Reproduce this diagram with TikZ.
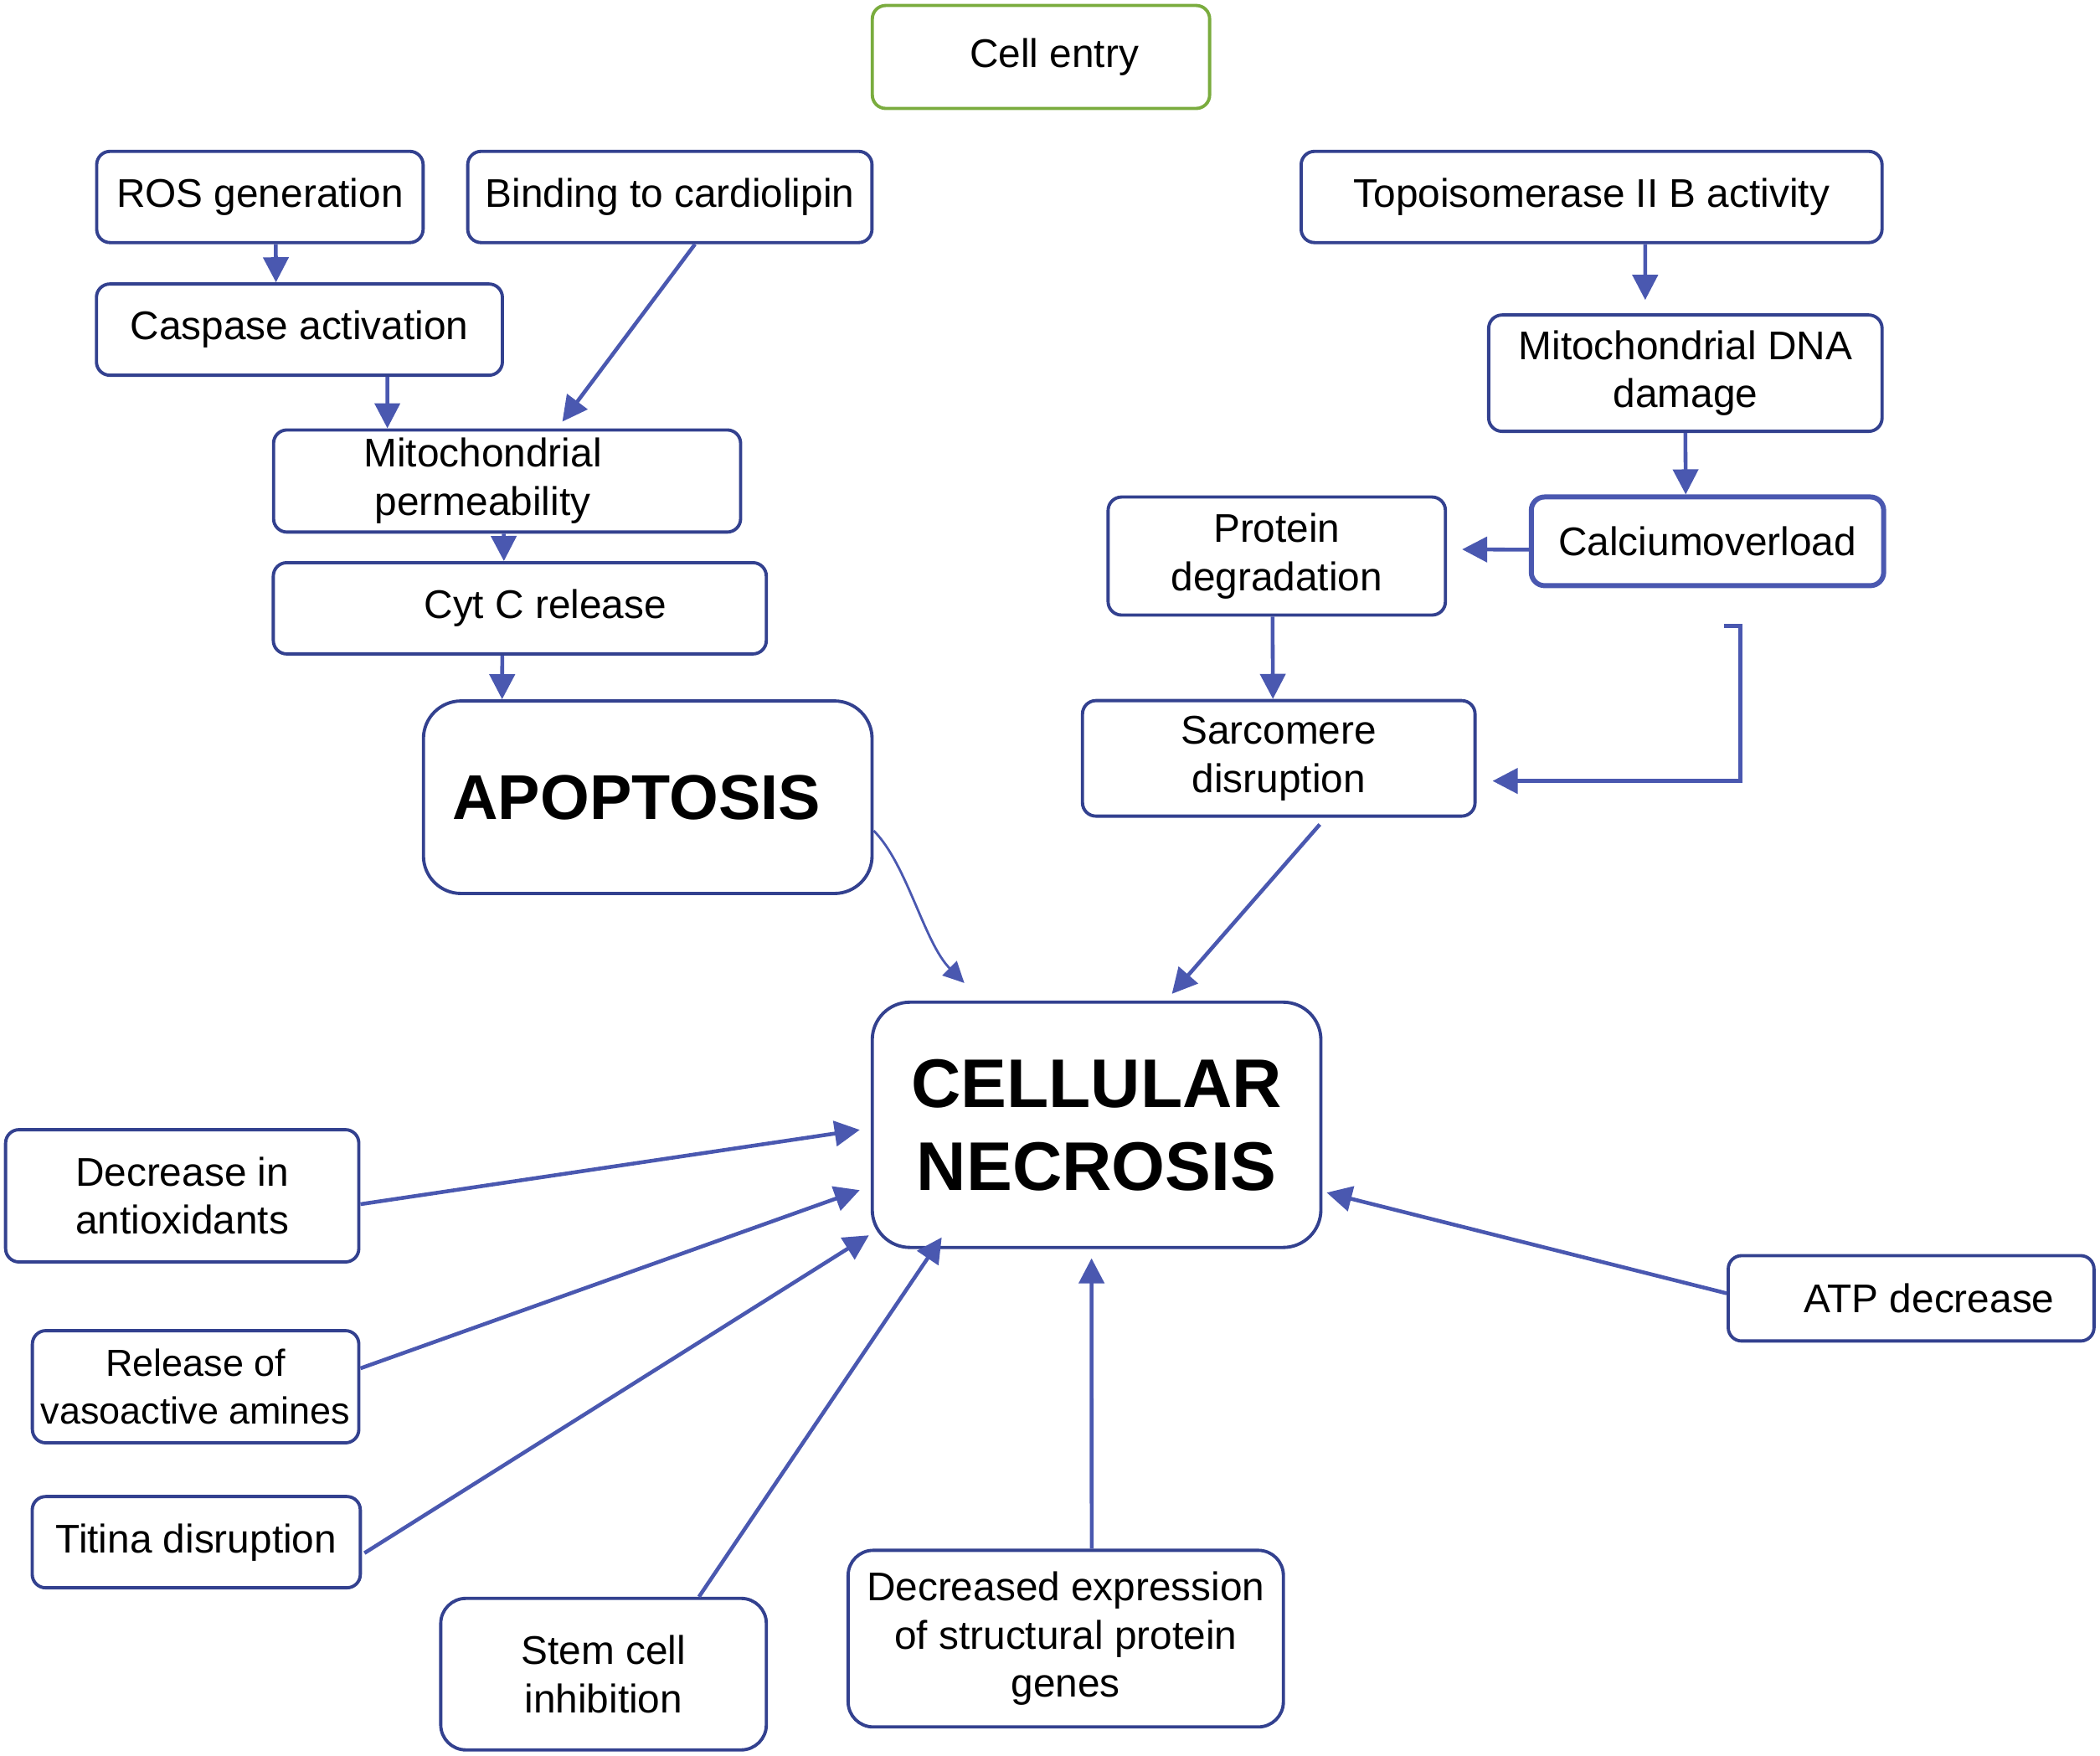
\documentclass[tikz,border=0pt]{standalone}
\usepackage{fontspec}
\setmainfont{Liberation Sans}
\usepackage{xcolor}
\definecolor{colorBox}{RGB}{51,65,143}
\definecolor{colorArrow}{RGB}{74,88,176}
\definecolor{colorEntry}{RGB}{122,172,62}
\usetikzlibrary{arrows.meta, positioning}
\tikzset{
  process/.style={draw=colorBox, line width=1.1pt, rounded corners=0.16cm, align=center, inner sep=2pt, font=\fontsize{13.6}{16.4}\selectfont},
  outcome/.style={process, rounded corners=0.45cm, font=\fontsize{23.4}{28.2}\selectfont\bfseries},
  link/.style={->, colorArrow, line width=1.3pt},
}

\begin{document}
\begin{tikzpicture}[x=0.016cm, y=-0.016cm, >={Triangle[length=0.3cm, width=0.3cm]}]
\useasboundingbox (0,0) rectangle (1567.5,1310.6);
% apoptosis branch
\node[process, draw=colorEntry, minimum width=4.03cm, minimum height=1.23cm] (entry) at (777,42.5) {\hspace*{0.32cm}Cell entry};
\node[process, minimum width=3.90cm, minimum height=1.09cm] (ros) at (194,147) {ROS generation};
\node[process, minimum width=4.83cm, minimum height=1.09cm] (binding) at (500,147) {Binding to cardiolipin};
\node[process, minimum width=4.85cm, minimum height=1.09cm] (caspase) at (223.5,246) {Caspase activation};
\node[process, minimum width=5.58cm, minimum height=1.22cm] (mitoPerm) at (378.5,359) {Mitochondrial\hspace*{0.58cm}\\permeability\hspace*{0.58cm}};
\node[process, minimum width=5.89cm, minimum height=1.09cm] (cytC) at (388,454) {\hspace*{0.61cm}Cyt C release};
\node[outcome, minimum width=5.36cm, minimum height=2.30cm, font=\fontsize{21.5}{26}\selectfont\bfseries] (apoptosis) at (483.5,595) {APOPTOSIS\hspace*{0.27cm}};
% topoisomerase branch
\node[process, minimum width=6.94cm, minimum height=1.09cm] (topo) at (1188,147) {Topoisomerase II B activity};
\node[process, minimum width=4.70cm, minimum height=1.39cm] (mitoDna) at (1258,278.5) {Mitochondrial DNA\\damage};
\node[process, draw=colorArrow, line width=1.7pt, minimum width=4.21cm, minimum height=1.06cm] (calcium) at (1274.5,404) {Calciumoverload};
\node[process, minimum width=4.03cm, minimum height=1.41cm] (protein) at (953,415) {Protein\\degradation};
\node[process, minimum width=4.69cm, minimum height=1.38cm] (sarcomere) at (954.5,566) {Sarcomere\\disruption};
% necrosis and its causes
\node[outcome, minimum width=5.36cm, minimum height=2.93cm] (necrosis) at (818.5,839.5) {CELLULAR\\NECROSIS};
\node[process, minimum width=4.22cm, minimum height=1.58cm] (antiox) at (136,892.5) {Decrease in\\antioxidants};
\node[process, minimum width=3.90cm, minimum height=1.34cm, font=\fontsize{12.8}{16.4}\selectfont] (vaso) at (146,1035) {Release of\\vasoactive amines};
\node[process, minimum width=3.92cm, minimum height=1.09cm] (titina) at (146.5,1151) {Titina disruption};
\node[process, rounded corners=0.3cm, minimum width=3.89cm, minimum height=1.81cm] (stem) at (450.5,1249.5) {Stem cell\\inhibition};
\node[process, rounded corners=0.3cm, minimum width=5.20cm, minimum height=2.11cm] (genes) at (795.5,1223) {Decreased expression\\of structural protein\\genes};
\node[process, minimum width=4.37cm, minimum height=1.02cm] (atp) at (1426.5,969) {\hspace*{0.43cm}ATP decrease};
\coordinate (calcTail) at (1287,467);

\draw[link] ([xshift=0.19cm]ros.south) -- ([xshift=-0.28cm]caspase.north);
\draw[link] ([xshift=1.05cm]caspase.south) -- ([xshift=-1.43cm]mitoPerm.north);
\draw[link] ([xshift=0.30cm]binding.south) -- ([xshift=0.66cm, yshift=0.08cm]mitoPerm.north);
\draw[link] ([xshift=-0.04cm]mitoPerm.south) -- ([xshift=-0.19cm]cytC.north);
\draw[link] ([xshift=-0.21cm]cytC.south) -- ([xshift=-1.74cm]apoptosis.north);
\draw[link] ([xshift=0.64cm]topo.south) -- ([xshift=-0.48cm, yshift=0.16cm]mitoDna.north);
\draw[link] (mitoDna.south) -- ([xshift=-0.26cm]calcium.north);
\draw[link] ([yshift=-0.1cm]calcium.west) -- ([xshift=0.18cm, yshift=0.08cm]protein.east);
\draw[link] ([xshift=-0.05cm]protein.south) -- ([xshift=-0.07cm]sarcomere.north);
\draw[link] (calcTail) -- ++(12,0) |- ([xshift=0.19cm, yshift=-0.27cm]sarcomere.east);
\draw[link] ([xshift=0.49cm, yshift=-0.08cm]sarcomere.south) -- ([xshift=0.90cm, yshift=0.08cm]necrosis.north);
\draw[link, line width=0.8pt, >={Triangle[length=0.25cm, width=0.24cm]}] ([yshift=-0.4cm]apoptosis.east) .. controls +(25,25) and +(-30,-30) .. ([xshift=-1.58cm, yshift=0.21cm]necrosis.north);
\draw[link] ([yshift=-0.10cm]antiox.east) -- ([xshift=-0.13cm, yshift=-0.06cm]necrosis.west);
\draw[link] ([yshift=0.22cm]vaso.east) -- ([xshift=-0.13cm, yshift=-0.78cm]necrosis.west);
\draw[link] ([xshift=0.03cm, yshift=-0.13cm]titina.east) -- ([xshift=-0.02cm, yshift=-1.32cm]necrosis.west);
\draw[link] ([xshift=1.14cm]stem.north) -- ([xshift=-1.85cm, yshift=0.14cm]necrosis.south);
\draw[link] ([xshift=0.31cm]genes.north) -- ([xshift=-0.06cm, yshift=-0.11cm]necrosis.south);
\draw[link] ([yshift=0.06cm]atp.west) -- ([xshift=0.05cm, yshift=-0.81cm]necrosis.east);
\end{tikzpicture}
\end{document}
